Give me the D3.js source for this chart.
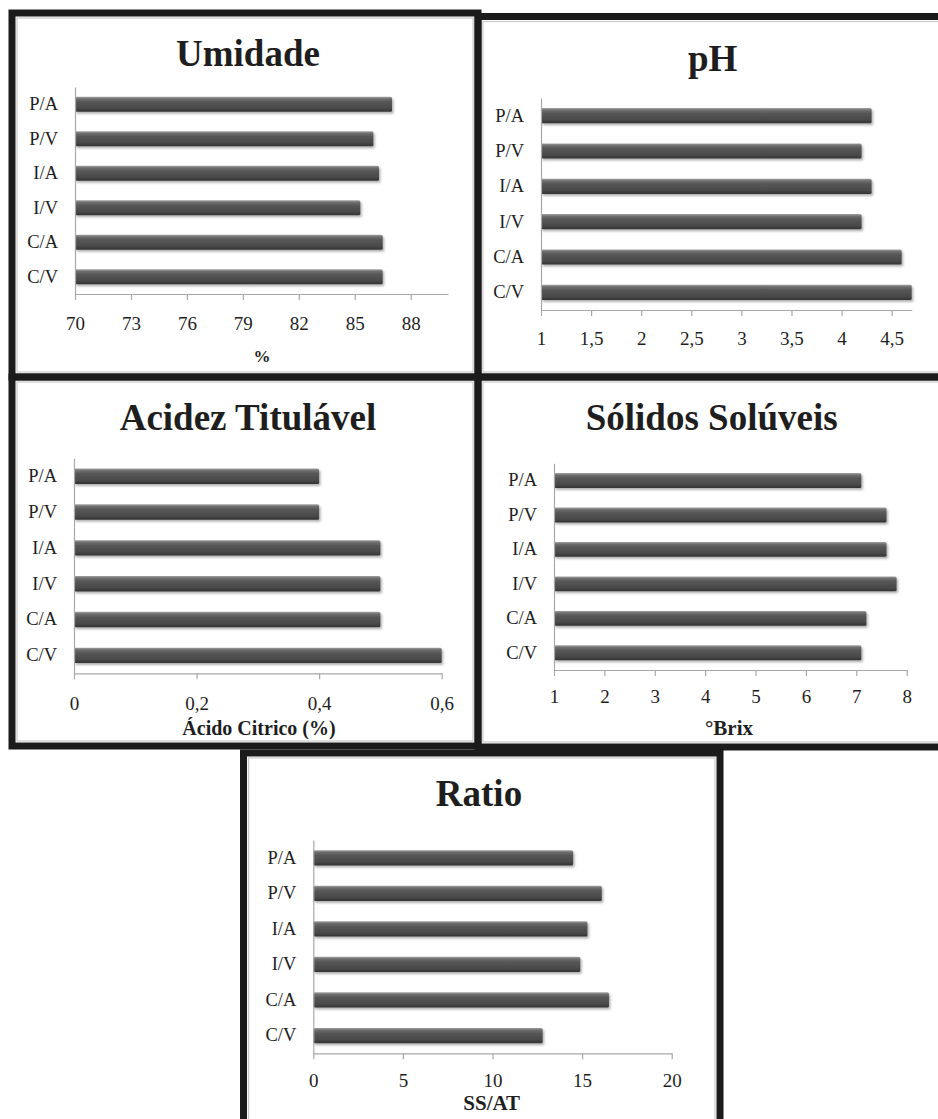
<!DOCTYPE html>
<html>
<head>
<meta charset="utf-8">
<script src="https://cdn.jsdelivr.net/npm/d3@7"></script>
<style>
  html, body { margin: 0; padding: 0; background: #fff; }
  svg { display: block; }
  text { font-family: "Liberation Serif", "Times New Roman", serif; fill: #1e1e1e; }
</style>
</head>
<body>
<svg id="chart" width="938" height="1119"></svg>
<script>
// ---- data (bottom to top order as in the chart: C/V at the bottom) ----
const categories = ["C/V", "C/A", "I/V", "I/A", "P/V", "P/A"];

const umidadeValues = [86.5, 86.5, 85.3, 86.3, 86.0, 87.0];
const phValues      = [4.7, 4.6, 4.2, 4.3, 4.2, 4.3];
const acidezValues  = [0.6, 0.5, 0.5, 0.5, 0.4, 0.4];
const solidosValues = [7.1, 7.2, 7.8, 7.6, 7.6, 7.1];
const ratioValues   = [12.8, 16.5, 14.9, 15.3, 16.1, 14.5];

const umidadeTicks = [70, 73, 76, 79, 82, 85, 88];
const phTicks      = [1, 1.5, 2, 2.5, 3, 3.5, 4, 4.5];
const acidezTicks  = [0, 0.2, 0.4, 0.6];
const solidosTicks = [1, 2, 3, 4, 5, 6, 7, 8];
const ratioTicks   = [0, 5, 10, 15, 20];

const titles = ["Umidade", "pH", "Acidez Titulável", "Sólidos Solúveis", "Ratio"];
const axisTitles = ["%", "", "Ácido Citrico (%)", "°Brix", "SS/AT"];

// ---- layout ----
const svg = d3.select("#chart");
const defs = svg.append("defs");
const grad = defs.append("linearGradient").attr("id", "barGrad")
  .attr("x1", 0).attr("y1", 0).attr("x2", 0).attr("y2", 1);
[["0%", "#a2a2a2"], ["14%", "#6e6e6e"], ["35%", "#565656"], ["75%", "#4a4a4a"], ["100%", "#333"]]
  .forEach(([o, c]) => grad.append("stop").attr("offset", o).attr("stop-color", c));
const flt = defs.append("filter").attr("id", "shadow").attr("x", "-5%").attr("y", "-30%")
  .attr("width", "115%").attr("height", "180%");
flt.append("feDropShadow").attr("dx", 1.5).attr("dy", 2).attr("stdDeviation", 1.3)
  .attr("flood-color", "#000").attr("flood-opacity", 0.3);

const panels = [
  { frame: [12, 13, 466, 364], values: umidadeValues, ticks: umidadeTicks, domain: [70, 90],
    x0: 75, x1: 448, yTop: 87, yBot: 294, title: [248, 53], tickY: 323, axisTitle: [262, 356], atSize: 17 },
  { frame: [478, 16.5, 480, 360.5], values: phValues, ticks: phTicks, domain: [1, 4.7],
    x0: 541, x1: 911.7, yTop: 98, yBot: 310, title: [712.7, 58], tickY: 338, axisTitle: null },
  { frame: [12, 377, 466, 369], values: acidezValues, ticks: acidezTicks, domain: [0, 0.6],
    x0: 74, x1: 441.7, yTop: 458.3, yBot: 673.3, title: [248, 416.7], tickY: 703.3, axisTitle: [259, 728], atSize: 20 },
  { frame: [478, 377, 480, 370], values: solidosValues, ticks: solidosTicks, domain: [1, 8],
    x0: 554, x1: 906.7, yTop: 463.3, yBot: 670, title: [711.7, 416.7], tickY: 696.7, axisTitle: [729, 728], atSize: 21 },
  { frame: [243.5, 753, 476.5, 400], values: ratioValues, ticks: ratioTicks, domain: [0, 20],
    x0: 313.3, x1: 671.7, yTop: 840, yBot: 1053.3, title: [479, 793.3], tickY: 1080.7, axisTitle: [491.7, 1102.7], atSize: 21 }
];

const fmt = v => String(v).replace(".", ",");

// backgrounds + frames
const frameG = svg.append("g");
panels.forEach(p => {
  const [fx, fy, fw, fh] = p.frame;
  frameG.append("rect").attr("x", fx).attr("y", fy).attr("width", fw).attr("height", fh)
    .attr("fill", "#fff");
});
panels.forEach(p => {
  const [fx, fy, fw, fh] = p.frame;
  frameG.append("rect").attr("x", fx + 5).attr("y", fy + 5).attr("width", fw - 10).attr("height", fh - 10)
    .attr("fill", "none").attr("stroke", "#c8c8c8").attr("stroke-width", 1.2);
  frameG.append("rect").attr("x", fx).attr("y", fy).attr("width", fw).attr("height", fh)
    .attr("fill", "none").attr("stroke", "#1b1b1b").attr("stroke-width", 7);
});

panels.forEach((p, i) => {
  const g = svg.append("g");
  const x = d3.scaleLinear().domain(p.domain).range([p.x0, p.x1]);
  const y = d3.scaleBand().domain(categories.slice().reverse())
    .range([p.yTop, p.yBot]).paddingInner(0.57).paddingOuter(0.285);

  // bars
  g.selectAll("rect.bar").data(categories.map((c, k) => ({ c, v: p.values[k] })))
    .enter().append("rect").attr("class", "bar")
    .attr("x", x(p.domain[0]))
    .attr("y", d => y(d.c))
    .attr("width", d => x(d.v) - x(p.domain[0]))
    .attr("height", y.bandwidth())
    .attr("rx", 1.5)
    .attr("fill", "url(#barGrad)")
    .attr("filter", "url(#shadow)");

  // x axis
  const xa = g.append("g").attr("transform", `translate(0,${p.yBot})`)
    .call(d3.axisBottom(x).tickValues(p.ticks).tickFormat(fmt).tickSize(6).tickSizeOuter(0));
  xa.select(".domain").attr("stroke", "#a8a8a8").attr("stroke-width", 1.2);
  xa.selectAll(".tick line").attr("stroke", "#a8a8a8").attr("stroke-width", 1.2);
  xa.selectAll(".tick text").attr("y", p.tickY - p.yBot).attr("dy", "0.35em")
    .style("font-size", "19px").style("font-family", "'Liberation Serif', serif").attr("fill", "#1e1e1e");

  // y axis
  const ya = g.append("g").attr("transform", `translate(${p.x0},0)`)
    .call(d3.axisLeft(y).tickSize(0).tickPadding(17));
  ya.select(".domain").attr("stroke", "#a8a8a8").attr("stroke-width", 1.2);
  ya.selectAll(".tick text").style("font-size", "18.5px")
    .style("font-family", "'Liberation Serif', serif").attr("fill", "#1e1e1e");

  // title
  g.append("text").attr("x", p.title[0]).attr("y", p.title[1]).attr("dy", "0.35em")
    .attr("text-anchor", "middle").style("font-size", "37px").style("font-weight", "bold")
    .text(titles[i]);

  if (p.axisTitle) {
    g.append("text").attr("x", p.axisTitle[0]).attr("y", p.axisTitle[1]).attr("dy", "0.35em")
      .attr("text-anchor", "middle").style("font-size", p.atSize + "px").style("font-weight", "bold")
      .text(axisTitles[i]);
  }
});
</script>
</body>
</html>
